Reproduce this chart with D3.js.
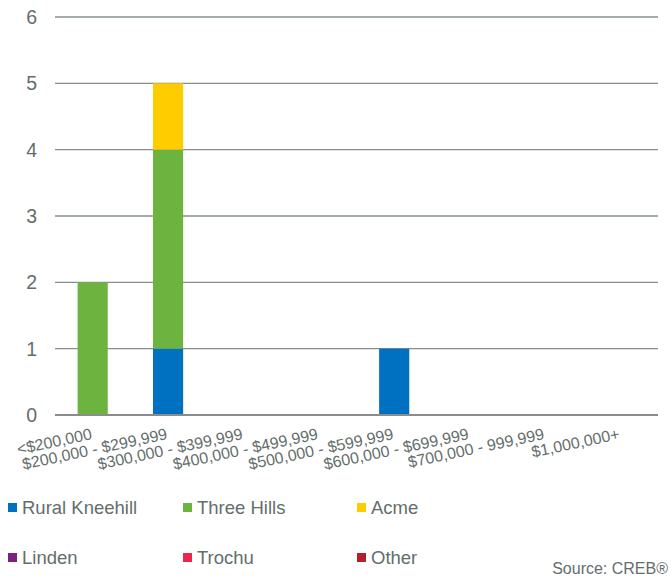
<!DOCTYPE html>
<html>
<head>
<meta charset="utf-8">
<script src="https://cdn.jsdelivr.net/npm/d3@7"></script>
<style>
  html, body { margin: 0; padding: 0; background: #fff; }
  svg { display: block; font-family: "Liberation Sans", Arial, sans-serif; }
</style>
</head>
<body>
<svg id="chart" width="672" height="577"></svg>
<script>
// Price ranges (x categories)
const categories = [
  "<$200,000", "$200,000 - $299,999", "$300,000 - $399,999", "$400,000 - $499,999",
  "$500,000 - $599,999", "$600,000 - $699,999", "$700,000 - 999,999", "$1,000,000+"
];

// Sales counts per area
const seriesNames = ["Rural Kneehill", "Three Hills", "Acme", "Linden", "Trochu", "Other"];
const ruralKneehill = [0, 1, 0, 0, 1, 0, 0, 0];
const threeHills    = [2, 3, 0, 0, 0, 0, 0, 0];
const acme          = [0, 1, 0, 0, 0, 0, 0, 0];
const linden        = [0, 0, 0, 0, 0, 0, 0, 0];
const trochu        = [0, 0, 0, 0, 0, 0, 0, 0];
const other         = [0, 0, 0, 0, 0, 0, 0, 0];
const seriesColors  = ["#0070C0", "#6DB33F", "#FFCC00", "#7B237B", "#EE2449", "#B2202A"];

const yTicks = [0, 1, 2, 3, 4, 5, 6];

const seriesValues = [ruralKneehill, threeHills, acme, linden, trochu, other];
const rows = categories.map((c, i) => {
  const r = { category: c };
  seriesNames.forEach((s, k) => { r[s] = seriesValues[k][i]; });
  return r;
});

const svg = d3.select("#chart");
const plot = { left: 55, right: 658, top: 17, bottom: 415 };
const textColor = "#636E6B";

const x = d3.scaleBand()
  .domain(categories)
  .range([plot.left, plot.right])
  .paddingInner(0.6)
  .paddingOuter(0.3);

const y = d3.scaleLinear().domain([0, 6]).range([plot.bottom, plot.top]);

// Horizontal gridlines
svg.append("g")
  .selectAll("line")
  .data(yTicks.filter(t => t > 0))
  .join("line")
  .attr("x1", plot.left).attr("x2", plot.right)
  .attr("y1", d => y(d)).attr("y2", d => y(d))
  .attr("stroke", "#86918E")
  .attr("stroke-width", 1.3);

// Y tick labels
svg.append("g")
  .selectAll("text")
  .data(yTicks)
  .join("text")
  .attr("x", 37)
  .attr("y", d => y(d))
  .attr("dy", "0.36em")
  .attr("text-anchor", "end")
  .attr("fill", textColor)
  .attr("font-size", 19.5)
  .text(d => d);

// Stacked bars
const stack = d3.stack().keys(seriesNames)(rows);
svg.append("g")
  .selectAll("g")
  .data(stack)
  .join("g")
  .attr("fill", (d, i) => seriesColors[i])
  .selectAll("rect")
  .data(d => d.filter(p => p[1] - p[0] > 0))
  .join("rect")
  .attr("x", d => x(d.data.category))
  .attr("width", x.bandwidth())
  .attr("y", d => y(d[1]))
  .attr("height", d => y(d[0]) - y(d[1]));

// Category axis line
svg.append("line")
  .attr("x1", plot.left).attr("x2", plot.right)
  .attr("y1", y(0)).attr("y2", y(0))
  .attr("stroke", "#8C8C8C")
  .attr("stroke-width", 2);

// Rotated category labels, right end at each category centre
svg.append("g")
  .selectAll("text")
  .data(categories)
  .join("text")
  .attr("transform", d => `translate(${x(d) + x.bandwidth() / 2},${plot.bottom + 24}) rotate(-12)`)
  .attr("text-anchor", "end")
  .attr("fill", textColor)
  .attr("font-size", 16)
  .text(d => d);

// Legend: two rows of three
const legend = svg.append("g");
const legendCols = [8, 183, 357];
const legendRows = [507.5, 557.5];
seriesNames.forEach((name, i) => {
  const lx = legendCols[i % 3];
  const ly = legendRows[Math.floor(i / 3)];
  const g = legend.append("g").attr("transform", `translate(${lx},${ly})`);
  g.append("rect")
    .attr("x", 0).attr("y", -4.5)
    .attr("width", 9).attr("height", 9)
    .attr("fill", seriesColors[i]);
  g.append("text")
    .attr("x", 14)
    .attr("y", 0)
    .attr("dy", "0.36em")
    .attr("fill", textColor)
    .attr("font-size", 18.5)
    .text(name);
});

// Source note
svg.append("text")
  .attr("x", 668)
  .attr("y", 568)
  .attr("dy", "0.36em")
  .attr("text-anchor", "end")
  .attr("fill", textColor)
  .attr("font-size", 16)
  .text("Source: CREB®");
</script>
</body>
</html>
